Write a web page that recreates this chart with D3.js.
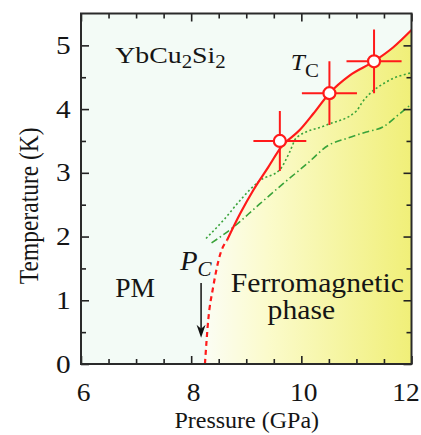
<!DOCTYPE html>
<html>
<head>
<meta charset="utf-8">
<script src="https://d3js.org/d3.v7.min.js"></script>
<style>
  body { margin: 0; background: #fff; }
  svg { display: block; }
  text { font-family: "Liberation Serif", "Times New Roman", serif; fill: #151515; }
</style>
</head>
<body>
<svg width="421" height="435"></svg>
<script>
// Tc measured points with error bars
const tcP = [9.61, 10.51, 11.32];
const tcT = [3.5, 4.25, 4.75];
const tcErrP = [0.48, 0.5, 0.5];
const tcErrT = [0.47, 0.5, 0.5];

// red solid line (Tc fit)
const fitP = [8.65, 8.89, 9.13, 9.40, 9.64, 9.97, 10.22, 10.51, 10.88, 11.32, 11.67, 12.0];
const fitT = [1.94, 2.36, 2.73, 3.09, 3.41, 3.67, 3.93, 4.25, 4.53, 4.75, 4.97, 5.24];

// red dashed extrapolation to Pc
const extP = [8.25, 8.31, 8.40, 8.53, 8.65];
const extT = [0.0, 0.69, 1.21, 1.73, 1.94];

// green dotted
const dotP = [8.27, 8.6, 8.89, 9.25, 9.61, 9.79, 9.91, 10.46, 11.0, 11.1, 11.55, 12.0];
const dotT = [1.97, 2.27, 2.57, 2.88, 3.05, 3.33, 3.55, 3.75, 3.97, 4.1, 4.43, 4.57];

// green dash-dot
const ddP = [8.37, 8.77, 9.19, 9.67, 10.1, 10.49, 10.82, 11.18, 11.48, 11.79, 12.0];
const ddT = [1.9, 2.15, 2.47, 2.83, 3.14, 3.43, 3.54, 3.64, 3.72, 3.93, 4.08];

const xMajor = [6, 8, 10, 12];
const xMinor = [6.5, 7, 7.5, 8.5, 9, 9.5, 10.5, 11, 11.5];
const yMajor = [0, 1, 2, 3, 4, 5];
const yMinor = [0.5, 1.5, 2.5, 3.5, 4.5];

const svg = d3.select("svg");
const mLeft = 81, mRight = 411.5, mTop = 13.5, mBottom = 364;

const x = d3.scaleLinear().domain([6, 12]).range([mLeft, mRight]);
const y = d3.scaleLinear().domain([0, 5.5]).range([mBottom, mTop]);

const defs = svg.append("defs");
defs.append("clipPath").attr("id", "plot")
  .append("rect").attr("x", mLeft).attr("y", mTop).attr("width", mRight - mLeft).attr("height", mBottom - mTop);

const grad = defs.append("linearGradient").attr("id", "fm")
  .attr("gradientUnits", "userSpaceOnUse")
  .attr("x1", x(8.25)).attr("x2", x(12)).attr("y1", 0).attr("y2", 0);
grad.append("stop").attr("offset", 0).attr("stop-color", "#fbfdf4");
grad.append("stop").attr("offset", 0.3).attr("stop-color", "#fbfbcc");
grad.append("stop").attr("offset", 1).attr("stop-color", "#f0ef78");

svg.append("rect").attr("x", mLeft).attr("y", mTop).attr("width", mRight - mLeft).attr("height", mBottom - mTop)
  .attr("fill", "#f3fbf6");

const plot = svg.append("g").attr("clip-path", "url(#plot)");

const zip = (a, b) => a.map((v, i) => [v, b[i]]);
const boundary = zip(extP, extT).concat(zip(fitP, fitT).slice(1));

plot.append("path")
  .datum(boundary)
  .attr("fill", "url(#fm)")
  .attr("d", d3.area().x(d => x(d[0])).y0(y(0)).y1(d => y(d[1])).curve(d3.curveMonotoneX));

const line = d3.line().x(d => x(d[0])).y(d => y(d[1])).curve(d3.curveMonotoneX);

plot.append("path").datum(zip(dotP, dotT)).attr("d", line)
  .attr("fill", "none").attr("stroke", "#3aa33a").attr("stroke-width", 1.6).attr("stroke-dasharray", "2,2.5");
plot.append("path").datum(zip(ddP, ddT)).attr("d", line)
  .attr("fill", "none").attr("stroke", "#3aa33a").attr("stroke-width", 1.6).attr("stroke-dasharray", "7,3,1.5,3");

plot.append("path").datum(zip(fitP, fitT)).attr("d", line)
  .attr("fill", "none").attr("stroke", "#ff1a1a").attr("stroke-width", 2.2);
plot.append("path").datum(zip(extP, extT)).attr("d", line)
  .attr("fill", "none").attr("stroke", "#ff1a1a").attr("stroke-width", 2.2).attr("stroke-dasharray", "5,4");

const pts = tcP.map((p, i) => ({ p, t: tcT[i], ep: tcErrP[i], et: tcErrT[i] }));
const eb = plot.append("g").attr("stroke", "#ff1a1a").attr("stroke-width", 2);
eb.selectAll(".h").data(pts).join("line").attr("class", "h")
  .attr("x1", d => x(d.p - d.ep)).attr("x2", d => x(d.p + d.ep))
  .attr("y1", d => y(d.t)).attr("y2", d => y(d.t));
eb.selectAll(".v").data(pts).join("line").attr("class", "v")
  .attr("x1", d => x(d.p)).attr("x2", d => x(d.p))
  .attr("y1", d => y(d.t - d.et)).attr("y2", d => y(d.t + d.et));
plot.selectAll("circle").data(pts).join("circle")
  .attr("cx", d => x(d.p)).attr("cy", d => y(d.t)).attr("r", 6)
  .attr("fill", "#fff").attr("stroke", "#ff1a1a").attr("stroke-width", 2.2);

// labels (the original figure is stretched horizontally)
function label(p, t, size, sx, anchor) {
  return svg.append("text")
    .attr("transform", `translate(${x(p)},${y(t)}) scale(${sx},1)`)
    .attr("font-size", size).attr("text-anchor", anchor || "start");
}

const yb = label(6.62, 4.72, 24, 1.16);
yb.append("tspan").text("YbCu");
yb.append("tspan").text("2").attr("font-size", 18).attr("dy", 5);
yb.append("tspan").text("Si").attr("dy", -5);
yb.append("tspan").text("2").attr("font-size", 18).attr("dy", 5);

const tc = label(9.81, 4.61, 23, 1.1);
tc.append("tspan").text("T").attr("font-style", "italic");
tc.append("tspan").text("C").attr("font-size", 19).attr("dy", 7);

const pc = label(7.8, 1.47, 27, 1.05);
pc.append("tspan").text("P").attr("font-style", "italic");
pc.append("tspan").text("C").attr("font-style", "italic").attr("font-size", 20).attr("dy", 6);

label(6.62, 1.05, 27, 1.02).text("PM");
label(10.29, 1.13, 26.5, 1.12, "middle").text("Ferromagnetic");
label(10.0, 0.7, 26.5, 1.12, "middle").text("phase");

// arrow to Pc
const ax = x(8.18), ay1 = y(1.27), ay2 = y(0.41);
svg.append("line").attr("x1", ax).attr("x2", ax).attr("y1", ay1).attr("y2", ay2 - 6)
  .attr("stroke", "#111").attr("stroke-width", 1.5);
const head = d3.path();
head.moveTo(ax, ay2);
head.lineTo(ax - 4.5, ay2 - 13);
head.lineTo(ax, ay2 - 9);
head.lineTo(ax + 4.5, ay2 - 13);
head.closePath();
svg.append("path").attr("d", head.toString()).attr("fill", "#111");

// axes with inward ticks on all four sides
function ticks(axis, values, size, pos, labels) {
  const g = svg.append("g").attr("transform", pos)
    .call(axis.tickValues(values).tickSize(-size).tickPadding(labels ? labels : 0)
      .tickFormat(labels ? d3.format("d") : ""));
  g.select(".domain").remove();
  g.selectAll("line").attr("stroke", "#222").attr("stroke-width", 1.6);
  return g;
}
ticks(d3.axisBottom(x), xMinor, 5, `translate(0,${mBottom})`);
const bx = ticks(d3.axisBottom(x), xMajor, 8, `translate(0,${mBottom})`, 19);
ticks(d3.axisTop(x), xMinor, 5, `translate(0,${mTop})`);
ticks(d3.axisTop(x), xMajor, 8, `translate(0,${mTop})`);
ticks(d3.axisLeft(y), yMinor, 5, `translate(${mLeft},0)`);
const ly = ticks(d3.axisLeft(y), yMajor, 8, `translate(${mLeft},0)`, 9);
ticks(d3.axisRight(y), yMinor, 5, `translate(${mRight},0)`);
ticks(d3.axisRight(y), yMajor, 8, `translate(${mRight},0)`);

// the last x label sits a little inside the frame edge
bx.selectAll("text").attr("font-size", 25).attr("fill", "#151515")
  .attr("transform", d => `translate(${d === 12 ? -6 : 2},0) scale(1.1,1)`);
ly.selectAll("text").attr("font-size", 25.5).attr("fill", "#151515")
  .attr("transform", "scale(1.15,1)");

svg.append("rect").attr("x", mLeft).attr("y", mTop).attr("width", mRight - mLeft).attr("height", mBottom - mTop)
  .attr("fill", "none").attr("stroke", "#2a2a2a").attr("stroke-width", 2);

// axis titles
svg.append("text").attr("x", (mLeft + mRight) / 2 + 0.5).attr("y", 428)
  .attr("text-anchor", "middle").attr("font-size", 24).text("Pressure (GPa)");
svg.append("text")
  .attr("transform", `translate(38,${(y(0) + y(5.5)) / 2 + 17}) scale(1.15,1) rotate(-90)`)
  .attr("text-anchor", "middle").attr("font-size", 23.5).text("Temperature (K)");
</script>
</body>
</html>
